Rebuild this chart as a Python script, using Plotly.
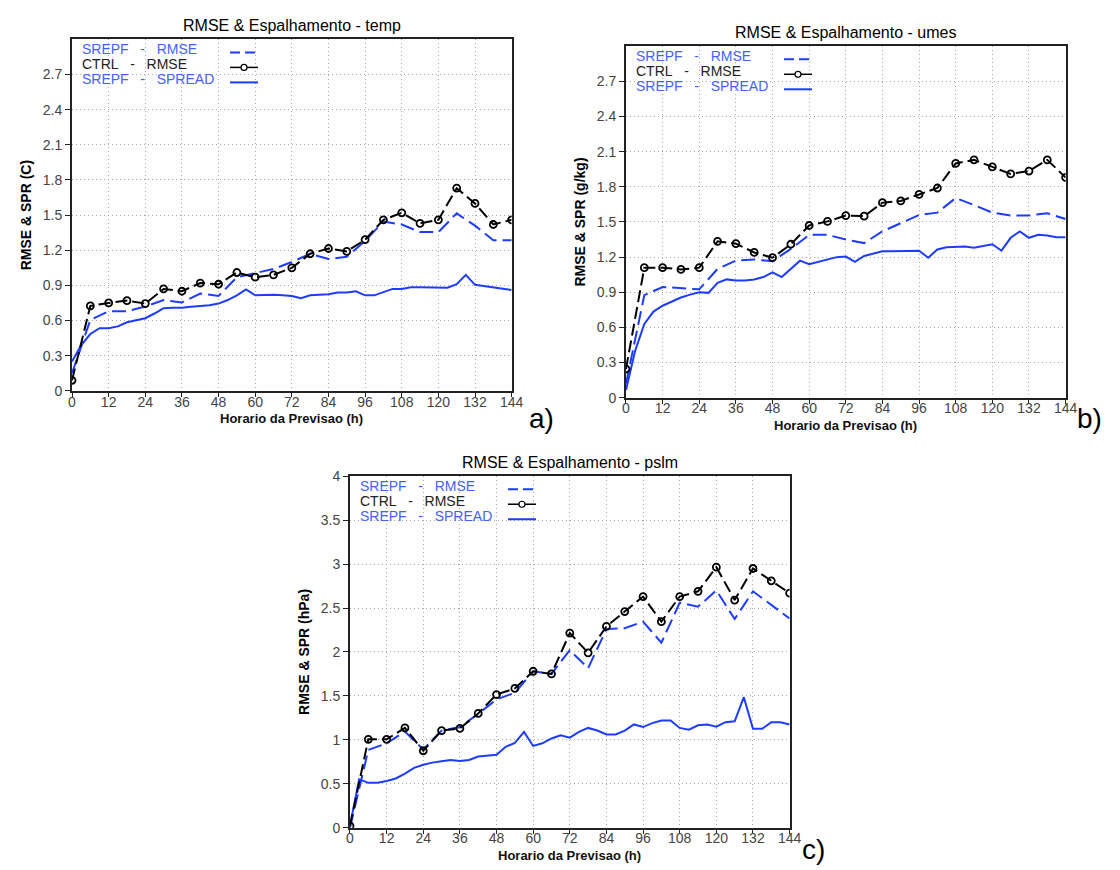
import plotly.graph_objects as go

# Forecast lead times (h): control run every 6 h, ensemble spread every 3 h
hours6 = list(range(0, 145, 6))
hours3 = list(range(0, 145, 3))

x_ticks = list(range(0, 145, 12))
x_ticktext = [str(v) for v in x_ticks]

y_ticks_03 = [0, 0.3, 0.6, 0.9, 1.2, 1.5, 1.8, 2.1, 2.4, 2.7]
y_ticktext_03 = ["0", "0.3", "0.6", "0.9", "1.2", "1.5", "1.8", "2.1", "2.4", "2.7"]
y_ticks_05 = [0, 0.5, 1, 1.5, 2, 2.5, 3, 3.5, 4]
y_ticktext_05 = ["0", "0.5", "1", "1.5", "2", "2.5", "3", "3.5", "4"]

# --- temp (C) ---
temp_srepf_rmse = [0.15, 0.605, 0.68, 0.68, 0.72, 0.775, 0.755, 0.83, 0.81, 0.97, 1.005, 1.04, 1.10,
                   1.17, 1.125, 1.145, 1.28, 1.445, 1.42, 1.355, 1.355, 1.515, 1.41, 1.285, 1.285]
temp_ctrl_rmse = [0.09, 0.725, 0.75, 0.77, 0.745, 0.87, 0.85, 0.92, 0.91, 1.01, 0.97, 0.99, 1.05,
                  1.17, 1.215, 1.19, 1.29, 1.46, 1.52, 1.43, 1.46, 1.73, 1.60, 1.42, 1.46]
temp_srepf_spread = [0.25, 0.39, 0.485, 0.535, 0.535, 0.55, 0.585, 0.605, 0.62, 0.66, 0.705, 0.71, 0.71,
                     0.717, 0.725, 0.73, 0.745, 0.775, 0.815, 0.866, 0.815, 0.82, 0.82, 0.815, 0.81,
                     0.79, 0.815, 0.82, 0.825, 0.84, 0.84, 0.85, 0.815, 0.815, 0.84, 0.87, 0.87,
                     0.885, 0.885, 0.885, 0.88, 0.88, 0.91, 0.99, 0.905, 0.895, 0.885, 0.87, 0.86]

# --- umes (g/kg) ---
umes_srepf_rmse = [0.12, 0.875, 0.945, 0.935, 0.925, 1.10, 1.17, 1.18, 1.165, 1.27, 1.39, 1.39, 1.35,
                   1.32, 1.42, 1.49, 1.56, 1.58, 1.705, 1.645, 1.58, 1.555, 1.555, 1.575, 1.525]
umes_ctrl_rmse = [0.245, 1.11, 1.11, 1.095, 1.11, 1.335, 1.315, 1.24, 1.195, 1.31, 1.47, 1.505, 1.555,
                  1.55, 1.665, 1.68, 1.735, 1.79, 2.0, 2.03, 1.97, 1.91, 1.935, 2.03, 1.88]
umes_srepf_spread = [0.065, 0.40, 0.63, 0.735, 0.785, 0.82, 0.855, 0.88, 0.90, 0.895, 0.98, 1.01, 1.0,
                     1.0, 1.01, 1.03, 1.07, 1.03, 1.10, 1.17, 1.14, 1.16, 1.185, 1.20, 1.205,
                     1.16, 1.21, 1.23, 1.25, 1.25, 1.25, 1.255, 1.255, 1.195, 1.265, 1.285, 1.29,
                     1.29, 1.28, 1.295, 1.31, 1.255, 1.365, 1.42, 1.365, 1.39, 1.385, 1.37, 1.37]

# --- pslm (hPa) ---
pslm_srepf_rmse = [0.0, 0.885, 0.96, 1.095, 0.89, 1.105, 1.145, 1.295, 1.46, 1.535, 1.78, 1.75, 2.02,
                   1.815, 2.26, 2.27, 2.345, 2.105, 2.56, 2.515, 2.70, 2.375, 2.69, 2.54, 2.38]
pslm_ctrl_rmse = [0.02, 1.005, 1.005, 1.135, 0.875, 1.105, 1.13, 1.30, 1.515, 1.585, 1.78, 1.75, 2.215,
                  1.99, 2.29, 2.46, 2.63, 2.345, 2.63, 2.69, 2.965, 2.59, 2.95, 2.81, 2.67]
pslm_srepf_spread = [0.025, 0.55, 0.51, 0.51, 0.53, 0.56, 0.615, 0.68, 0.715, 0.74, 0.755, 0.77, 0.76,
                     0.77, 0.81, 0.82, 0.83, 0.92, 0.965, 1.09, 0.93, 0.96, 1.015, 1.05, 1.025,
                     1.09, 1.135, 1.105, 1.06, 1.06, 1.105, 1.175, 1.145, 1.19, 1.22, 1.22, 1.135,
                     1.115, 1.165, 1.175, 1.15, 1.20, 1.21, 1.485, 1.125, 1.125, 1.20, 1.20, 1.175]

BLUE = "rgb(30,60,255)"
BLUE_TEXT = "rgb(70,95,255)"
W, H = 1120, 870
FONT = "Liberation Sans, Arial, sans-serif"

panels = [
    dict(ax="", title="RMSE & Espalhamento - temp", ytitle="RMSE & SPR (C)",
         box=(69, 515, 32, 390), yr=3.0, yt=y_ticks_03, ytt=y_ticktext_03,
         rmse=temp_srepf_rmse, ctrl=temp_ctrl_rmse, spread=temp_srepf_spread,
         tag="a)", tag_xy=(531, 418)),
    dict(ax="2", title="RMSE & Espalhamento - umes", ytitle="RMSE & SPR (g/kg)",
         box=(631, 1077, 39, 397), yr=3.0, yt=y_ticks_03, ytt=y_ticktext_03,
         rmse=umes_srepf_rmse, ctrl=umes_ctrl_rmse, spread=umes_srepf_spread,
         tag="b)", tag_xy=(1087, 418)),
    dict(ax="3", title="RMSE & Espalhamento - pslm", ytitle="RMSE & SPR (hPa)",
         box=(351, 797, 477, 835), yr=4.0, yt=y_ticks_05, ytt=y_ticktext_05,
         rmse=pslm_srepf_rmse, ctrl=pslm_ctrl_rmse, spread=pslm_srepf_spread,
         tag="c)", tag_xy=(808, 857)),
]

fig = go.Figure()
annotations = []
shapes = []
layout = {}

TICK_FONT = dict(family=FONT, size=14, color="#444")
GRID = dict(showgrid=True, gridcolor="#a8a8a8", griddash="1px,3px", gridwidth=1, zeroline=False)
FRAME = dict(showline=True, mirror=True, linecolor="#222", linewidth=2)

for p in panels:
    xa, ya = "x" + p["ax"], "y" + p["ax"]
    x0, x1, ytop, ybot = p["box"]
    fig.add_trace(go.Scatter(x=hours6, y=p["rmse"], mode="lines", xaxis=xa, yaxis=ya,
                             line=dict(color=BLUE, width=2, dash="14px,6px"), showlegend=False))
    fig.add_trace(go.Scatter(x=hours3, y=p["spread"], mode="lines", xaxis=xa, yaxis=ya,
                             line=dict(color=BLUE, width=2), showlegend=False))
    fig.add_trace(go.Scatter(x=hours6, y=p["ctrl"], mode="lines+markers", xaxis=xa, yaxis=ya,
                             line=dict(color="black", width=2, dash="12px,5px"),
                             marker=dict(symbol="circle-open", size=7, color="black",
                                         line=dict(width=1.8, color="black")),
                             showlegend=False))

    layout["xaxis" + p["ax"]] = dict(
        domain=[x0 / W, x1 / W], anchor=ya, range=[0, 144],
        tickvals=x_ticks, ticktext=x_ticktext, tickfont=TICK_FONT,
        ticks="outside", ticklen=4, tickcolor="#222", ticklabelstandoff=-7,
        **FRAME, **GRID,
    )
    layout["yaxis" + p["ax"]] = dict(
        domain=[1 - ybot / H, 1 - ytop / H], anchor=xa, range=[0, p["yr"]],
        tickvals=p["yt"], ticktext=p["ytt"], tickfont=TICK_FONT,
        ticks="outside", ticklen=5, tickcolor="#222",
        **FRAME, **GRID,
        title=dict(text="<b>" + p["ytitle"] + "</b>", standoff=8,
                   font=dict(family=FONT, size=14, color="black")),
    )

    xd, yd = xa + " domain", ya + " domain"
    # panel title
    annotations.append(dict(text=p["title"], xref=xd, yref=yd, x=0.5, y=1, yshift=14,
                            xanchor="center", yanchor="middle", showarrow=False,
                            font=dict(family=FONT, size=16, color="black")))
    # x-axis title
    annotations.append(dict(text="<b>Horario da Previsao (h)</b>", xref=xd, yref=yd, x=0.5, y=0,
                            yshift=-28, xanchor="center", yanchor="middle", showarrow=False,
                            font=dict(family=FONT, size=13, color="#111")))
    # panel tag
    annotations.append(dict(text=p["tag"], xref="paper", yref="paper",
                            x=p["tag_xy"][0] / W, y=1 - p["tag_xy"][1] / H,
                            xanchor="left", yanchor="middle", showarrow=False,
                            font=dict(family=FONT, size=28, color="black")))
    # legend entries: label text on the left, line sample on the right
    nb = "\u00a0"
    entries = [("SREPF" + nb * 3 + "-" + nb * 3 + "RMSE", BLUE_TEXT, -10),
               ("CTRL" + nb * 3 + "-" + nb * 3 + "RMSE", "#222", -25),
               ("SREPF" + nb * 3 + "-" + nb * 3 + "SPREAD", BLUE_TEXT, -40)]
    for txt, col, dy in entries:
        annotations.append(dict(text=txt, xref=xd, yref=yd, x=0, y=1, xshift=8, yshift=dy,
                                xanchor="left", yanchor="middle", showarrow=False,
                                font=dict(family=FONT, size=14, color=col)))
    common = dict(xref=xd, yref=yd, xsizemode="pixel", ysizemode="pixel", xanchor=0, yanchor=1)
    shapes.append(dict(type="line", x0=158, x1=186, y0=-13, y1=-13,
                       line=dict(color=BLUE, width=2, dash="10px,5px"), **common))
    shapes.append(dict(type="line", x0=158, x1=186, y0=-28, y1=-28,
                       line=dict(color="black", width=1.5), **common))
    shapes.append(dict(type="circle", x0=169, x1=175, y0=-31, y1=-25, fillcolor="white",
                       line=dict(color="black", width=1.2), **common))
    shapes.append(dict(type="line", x0=158, x1=186, y0=-43, y1=-43,
                       line=dict(color=BLUE, width=2), **common))

fig.update_layout(
    width=W, height=H, margin=dict(l=0, r=0, t=0, b=0),
    paper_bgcolor="white", plot_bgcolor="white",
    annotations=annotations, shapes=shapes, showlegend=False,
    **layout,
)

fig.write_html("out.html")
